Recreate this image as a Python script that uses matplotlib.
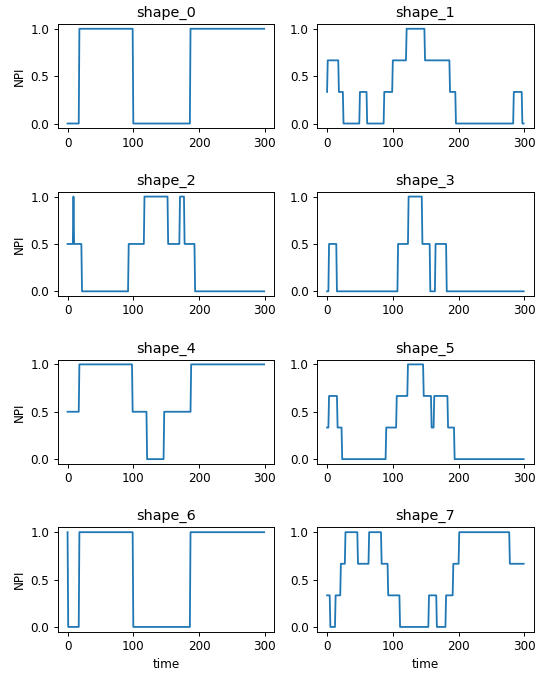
import numpy as np
import matplotlib
matplotlib.use("Agg")
import matplotlib.pyplot as plt

n_days = 300
third = 1 / 3

# each shape: day on which a level starts, and the level held from then on
shape_0_starts = [0, 18, 100, 187]
shape_0_levels = [0, 1, 0, 1]

shape_1_starts = [0, 1, 18, 25, 50, 61, 87, 100, 121, 149, 187, 196, 284, 297]
shape_1_levels = [third, 2 * third, third, 0, third, 0, third, 2 * third, 1, 2 * third, third, 0, third, 0]

shape_2_starts = [0, 9, 10, 22, 93, 117, 153, 171, 178, 194]
shape_2_levels = [0.5, 1, 0.5, 0, 0.5, 1, 0.5, 1, 0.5, 0]

shape_3_starts = [0, 3, 15, 108, 124, 145, 157, 165, 182]
shape_3_levels = [0, 0.5, 0, 0.5, 1, 0.5, 0, 0.5, 0]

shape_4_starts = [0, 18, 99, 121, 147, 188]
shape_4_levels = [0.5, 1, 0.5, 0, 0.5, 1]

shape_5_starts = [0, 3, 16, 23, 90, 106, 123, 147, 159, 163, 184, 194]
shape_5_levels = [third, 2 * third, third, 0, third, 2 * third, 1, 2 * third, third, 2 * third, third, 0]

shape_6_starts = [0, 1, 18, 100, 187]
shape_6_levels = [1, 0, 1, 0, 1]

shape_7_starts = [0, 5, 13, 21, 28, 47, 64, 83, 93, 111, 155, 167, 181, 192, 201, 278]
shape_7_levels = [third, 0, third, 2 * third, 1, 2 * third, 1, 2 * third, third, 0, third, 0, third, 2 * third, 1, 2 * third]

shapes = [
    (shape_0_starts, shape_0_levels),
    (shape_1_starts, shape_1_levels),
    (shape_2_starts, shape_2_levels),
    (shape_3_starts, shape_3_levels),
    (shape_4_starts, shape_4_levels),
    (shape_5_starts, shape_5_levels),
    (shape_6_starts, shape_6_levels),
    (shape_7_starts, shape_7_levels),
]


def daily_series(starts, levels):
    # hold each level until the next start day
    lengths = np.diff(list(starts) + [n_days])
    return np.repeat(levels, lengths)


dpi = 86.4
fig, axes = plt.subplots(4, 2, figsize=(537 / dpi, 673 / dpi), dpi=dpi)
fig.subplots_adjust(left=0.1075, right=0.9935, bottom=0.0614, top=0.9643,
                    wspace=0.2, hspace=0.61)

t = np.arange(n_days)
for i, (starts, levels) in enumerate(shapes):
    ax = axes[i // 2, i % 2]
    ax.plot(t, daily_series(starts, levels), color="#1f77b4", linewidth=1.5)
    ax.set_title(f"shape_{i}")
    ax.set_xticks([0, 100, 200, 300])
    ax.set_yticks([0.0, 0.5, 1.0])
    if i % 2 == 0:
        ax.set_ylabel("NPI")
    if i >= 6:
        ax.set_xlabel("time")

plt.savefig("out.png", dpi=dpi)
